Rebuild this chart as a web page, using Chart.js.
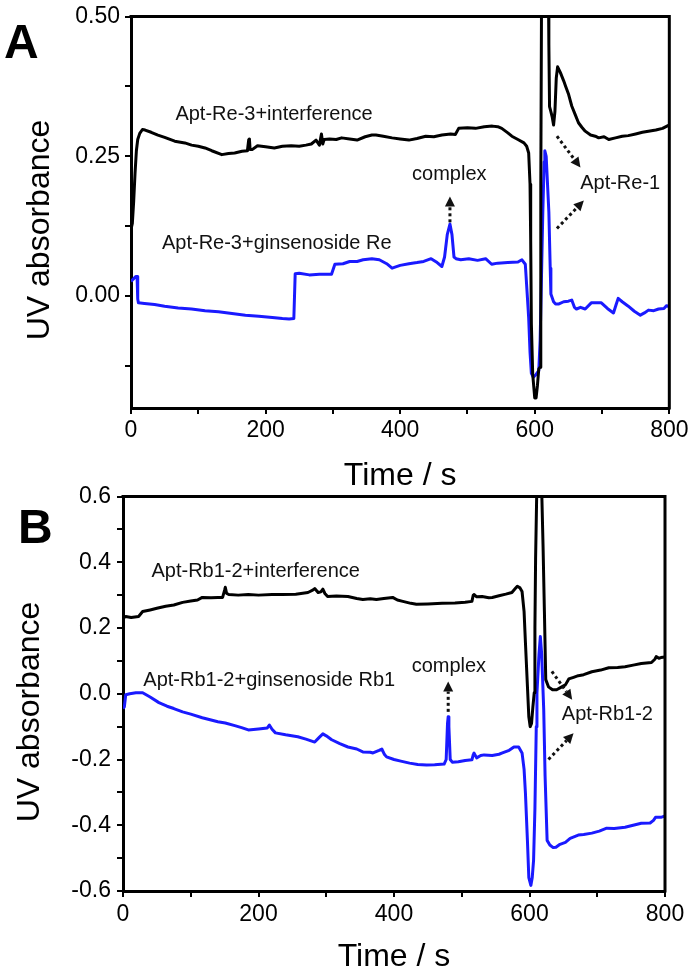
<!DOCTYPE html>
<html><head><meta charset="utf-8">
<script src="https://cdn.jsdelivr.net/npm/chart.js@4.4.0/dist/chart.umd.min.js"></script>
<style>
html,body{margin:0;padding:0;background:#fff;overflow:hidden;width:694px;height:972px;}
canvas{position:absolute;left:0;}
#cA{top:0;} #cB{top:478px;}
</style></head><body>
<canvas id="cA" width="694" height="500"></canvas>
<canvas id="cB" width="694" height="494"></canvas>
<script>
// ---------- DATA ----------
const xTicks = [0,100,200,300,400,500,600,700,800];
const xTickLabels = ['0','','200','','400','','600','','800'];

const yTicksA = [-0.125,0,0.125,0.25,0.375,0.5];
const yTickLabelsA = ['','0.00','','0.25','','0.50'];
const yTicksB = [-0.6,-0.5,-0.4,-0.3,-0.2,-0.1,0,0.1,0.2,0.3,0.4,0.5,0.6];
const yTickLabelsB = ['-0.6','','-0.4','','-0.2','','0.0','','0.2','','0.4','','0.6'];

// Panel A: Apt-Re-3 + interference (black)
const tA_interf = [0,2,4,6,8,10,13,17,21,30,40,50,65,80,90,100,110,120,135,145,154,165,173,175,176,177,180,188,200,213,225,238,250,260,268,275,280,283,285,287,295,305,313,325,336,348,358,364,375,388,400,413,425,438,450,462,475,482,487,500,512,525,537,545,551,560,566,575,584,588,591,593,594,595,597,600,602,604,606,608,609,610,612,615,618,620,621,622,624,626,628,630,632,634,638,643,646,650,655,660,665,670,675,683,690,695,703,710,720,730,739,750,760,769,780,790,798,800];
const yA_interf = [0.12,0.13,0.17,0.22,0.26,0.28,0.291,0.298,0.297,0.293,0.288,0.284,0.277,0.274,0.27,0.268,0.265,0.26,0.253,0.255,0.256,0.259,0.26,0.28,0.281,0.262,0.262,0.269,0.267,0.265,0.268,0.269,0.268,0.27,0.272,0.279,0.27,0.29,0.272,0.28,0.281,0.28,0.283,0.281,0.279,0.285,0.288,0.288,0.286,0.283,0.281,0.279,0.282,0.286,0.285,0.288,0.29,0.289,0.3,0.301,0.3,0.303,0.304,0.303,0.3,0.292,0.286,0.28,0.274,0.268,0.256,0.2,0.1,-0.05,-0.14,-0.182,-0.182,-0.16,-0.13,-0.127,0.2,0.5,0.9,1.0,0.9,0.6,0.45,0.339,0.33,0.32,0.306,0.33,0.39,0.41,0.4,0.385,0.375,0.362,0.34,0.325,0.31,0.302,0.295,0.288,0.286,0.283,0.285,0.28,0.283,0.286,0.287,0.29,0.293,0.295,0.297,0.3,0.305,0.306];

// Panel A: Apt-Re-3 + ginsenoside Re (blue)
const tA_re = [0,3,7,9,10,11,20,35,50,70,90,110,130,150,170,190,210,225,235,242,244,250,265,280,298,301,303,315,325,336,345,358,369,380,388,400,413,425,435,446,455,462,466,470,474,477,480,483,490,502,515,527,536,545,560,575,581,586,589,591,593,595,598,602,606,608,610,612,614,615,617,619,621,623,624,628,631,636,643,650,655,659,662,668,675,684,690,699,708,717,721,724,730,739,748,757,763,769,777,784,792,796,800];
const yA_re = [0.026,0.03,0.035,0.035,-0.005,-0.012,-0.013,-0.015,-0.018,-0.021,-0.023,-0.026,-0.028,-0.031,-0.034,-0.036,-0.038,-0.04,-0.041,-0.04,0.04,0.041,0.038,0.039,0.039,0.05,0.057,0.058,0.062,0.062,0.065,0.067,0.065,0.058,0.05,0.055,0.058,0.06,0.062,0.067,0.06,0.053,0.07,0.11,0.129,0.11,0.07,0.067,0.065,0.067,0.064,0.067,0.057,0.059,0.06,0.061,0.065,0.057,0.0,-0.039,-0.1,-0.138,-0.145,-0.14,-0.133,-0.08,0.032,0.15,0.24,0.26,0.25,0.2,0.15,0.05,0.004,-0.01,-0.014,-0.014,-0.01,-0.009,-0.007,-0.02,-0.023,-0.02,-0.023,-0.012,-0.012,-0.012,-0.022,-0.03,-0.015,-0.004,-0.01,-0.018,-0.027,-0.034,-0.03,-0.025,-0.026,-0.023,-0.022,-0.017,-0.019];

// Panel B: Apt-Rb1-2 + interference (black)
const tB_interf = [0,4,12,23,29,40,50,63,75,88,100,110,117,130,140,147,150,151,153,156,170,185,200,220,235,255,273,280,283,288,292,295,298,302,315,332,345,354,365,374,385,398,405,413,425,433,450,471,490,505,515,517,518,522,530,540,545,555,565,574,579,582,586,589,592,594,597,599,601,603,605,607,608,609,611,614,616,618,620,622,624,628,634,640,647,653,658,665,672,680,692,705,717,730,741,753,765,780,785,787,791,794,800];
const yB_interf = [0.23,0.235,0.232,0.235,0.25,0.255,0.26,0.266,0.27,0.278,0.282,0.285,0.293,0.292,0.293,0.293,0.315,0.324,0.305,0.302,0.3,0.302,0.3,0.302,0.302,0.303,0.308,0.315,0.32,0.308,0.31,0.318,0.305,0.296,0.297,0.296,0.29,0.287,0.289,0.287,0.29,0.293,0.285,0.281,0.275,0.272,0.273,0.275,0.276,0.278,0.281,0.3,0.302,0.295,0.296,0.292,0.293,0.298,0.303,0.308,0.32,0.327,0.322,0.311,0.25,0.156,0.02,-0.07,-0.1,-0.09,-0.04,0.003,0.2,0.41,0.65,0.9,0.95,0.62,0.45,0.25,0.043,0.021,0.012,0.012,0.02,0.027,0.045,0.05,0.055,0.058,0.067,0.072,0.079,0.08,0.082,0.087,0.092,0.095,0.105,0.113,0.108,0.11,0.112];

// Panel B: Apt-Rb1-2 + ginsenoside Rb1 (blue)
const tB_rb1 = [0,2,4,10,19,29,40,53,65,75,88,100,117,130,140,151,165,175,185,200,213,216,220,225,240,258,270,283,290,295,300,308,320,332,345,354,365,369,378,382,386,389,400,410,423,435,448,460,474,477,479,480,481,483,486,495,505,515,517,518,522,528,533,545,555,560,570,577,584,589,592,594,597,599,602,604,606,608,610,611,614,616,618,621,623,626,630,635,639,645,653,660,672,680,692,703,714,725,741,753,765,778,783,786,794,800];
const yB_rb1 = [-0.045,-0.04,-0.003,0.0,0.003,0.003,-0.01,-0.027,-0.038,-0.045,-0.055,-0.062,-0.073,-0.08,-0.085,-0.089,-0.097,-0.103,-0.11,-0.107,-0.104,-0.095,-0.108,-0.119,-0.125,-0.131,-0.138,-0.147,-0.132,-0.122,-0.128,-0.14,-0.152,-0.162,-0.168,-0.177,-0.178,-0.18,-0.172,-0.168,-0.185,-0.192,-0.2,-0.205,-0.211,-0.215,-0.217,-0.216,-0.214,-0.2,-0.09,-0.07,-0.1,-0.2,-0.208,-0.207,-0.203,-0.201,-0.185,-0.18,-0.195,-0.188,-0.186,-0.188,-0.184,-0.18,-0.172,-0.162,-0.162,-0.18,-0.23,-0.302,-0.45,-0.559,-0.583,-0.56,-0.507,-0.35,-0.1,0.003,0.12,0.174,0.12,-0.049,-0.25,-0.446,-0.46,-0.468,-0.467,-0.458,-0.452,-0.44,-0.43,-0.428,-0.424,-0.418,-0.409,-0.41,-0.406,-0.4,-0.394,-0.393,-0.385,-0.376,-0.376,-0.372];

// ---------- ANNOTATIONS ----------
const notesA = [
  {text:'Apt-Re-3+interference', x:66, y:0.325, align:'left'},
  {text:'Apt-Re-3+ginsenoside Re', x:46, y:0.094, align:'left'},
  {text:'complex', x:473, y:0.217, align:'center'},
  {text:'Apt-Re-1', x:727, y:0.201, align:'center'}
];
const arrowsA = [
  {x1:474, y1:0.132, x2:474, y2:0.178},
  {x1:633, y1:0.286, x2:668, y2:0.23},
  {x1:633, y1:0.121, x2:673, y2:0.171}
];
const notesB = [
  {text:'Apt-Rb1-2+interference', x:42, y:0.372, align:'left'},
  {text:'Apt-Rb1-2+ginsenoside Rb1', x:30, y:0.04, align:'left'},
  {text:'complex', x:481, y:0.082, align:'center'},
  {text:'Apt-Rb1-2', x:715, y:-0.064, align:'center'}
];
const arrowsB = [
  {x1:480, y1:-0.055, x2:480, y2:0.037},
  {x1:633, y1:0.068, x2:663, y2:-0.018},
  {x1:628, y1:-0.2, x2:665, y2:-0.12}
];

const FONT = '"Liberation Sans", Arial, Helvetica, sans-serif';

function toPts(ts, vs){ return ts.map((t,i)=>({x:t, y:vs[i]})); }

function drawArrow(ctx, x1, y1, x2, y2){
  const ang = Math.atan2(y2-y1, x2-x1);
  const head = 10, hw = 5;
  const bx = x2 - head*Math.cos(ang), by = y2 - head*Math.sin(ang);
  ctx.setLineDash([3,3]);
  ctx.lineWidth = 3;
  ctx.beginPath(); ctx.moveTo(x1,y1); ctx.lineTo(bx,by); ctx.stroke();
  ctx.setLineDash([]);
  ctx.beginPath();
  ctx.moveTo(x2,y2);
  ctx.lineTo(bx - hw*Math.sin(ang), by + hw*Math.cos(ang));
  ctx.lineTo(bx + hw*Math.sin(ang), by - hw*Math.cos(ang));
  ctx.closePath(); ctx.fill();
}

const annotPlugin = {
  id: 'annot',
  afterDatasetsDraw(chart, args, opts){
    const {ctx, chartArea} = chart;
    const xs = chart.scales.x, ys = chart.scales.y;
    ctx.save();
    // top and right frame lines
    ctx.strokeStyle = '#000'; ctx.lineWidth = 3;
    ctx.beginPath();
    ctx.moveTo(chartArea.left-1.5, chartArea.top);
    ctx.lineTo(chartArea.right, chartArea.top);
    ctx.lineTo(chartArea.right, chartArea.bottom+1.5);
    ctx.stroke();
    // notes
    ctx.fillStyle = '#111';
    ctx.font = '20px ' + FONT;
    ctx.textBaseline = 'middle';
    for (const n of opts.notes){
      ctx.textAlign = n.align;
      ctx.fillText(n.text, xs.getPixelForValue(n.x), ys.getPixelForValue(n.y));
    }
    ctx.fillStyle = '#111'; ctx.strokeStyle = '#111';
    for (const a of opts.arrows){
      drawArrow(ctx, xs.getPixelForValue(a.x1), ys.getPixelForValue(a.y1),
                     xs.getPixelForValue(a.x2), ys.getPixelForValue(a.y2));
    }
    // panel letter
    ctx.fillStyle = '#000';
    ctx.font = 'bold 48px ' + FONT;
    ctx.textAlign = 'left'; ctx.textBaseline = 'alphabetic';
    ctx.fillText(opts.letter, opts.letterX, opts.letterY);
    // y-axis title
    ctx.font = '32px ' + FONT;
    ctx.textAlign = 'center'; ctx.textBaseline = 'middle';
    ctx.translate(opts.yTitleX, opts.yTitleY);
    ctx.rotate(-Math.PI/2);
    ctx.fillText('UV absorbance', 0, 0);
    ctx.restore();
  }
};

function makeChart(id, c){
  return new Chart(document.getElementById(id), {
    type: 'line',
    data: { datasets: [
      {data: toPts(c.t1, c.v1), borderColor:'#000', borderWidth:3, pointRadius:0, tension:0, fill:false, borderJoinStyle:'round'},
      {data: toPts(c.t2, c.v2), borderColor:'#1a1aff', borderWidth:3, pointRadius:0, tension:0, fill:false, borderJoinStyle:'round'}
    ]},
    options: {
      responsive:false, animation:false, devicePixelRatio:1,
      layout: {padding: c.pad},
      plugins: {
        legend:{display:false}, tooltip:{enabled:false},
        annot: {notes:c.notes, arrows:c.arrows, letter:c.letter, letterX:c.letterX, letterY:c.letterY, yTitleX:c.yTitleX, yTitleY:c.yTitleY}
      },
      scales: {
        x: {
          type:'linear', min:0, max:800,
          afterBuildTicks: s => { s.ticks = xTicks.map(v=>({value:v})); },
          afterFit: s => { s.height = c.xHeight; },
          ticks: {callback:(v,i)=>xTickLabels[i], autoSkip:false, maxRotation:0, padding:c.xPad, color:'#000', font:{family:FONT, size:23, lineHeight:1}},
          grid: {display:true, drawOnChartArea:false, drawTicks:true, tickLength:6, color:'#000', lineWidth:2},
          border: {display:true, color:'#000', width:3},
          title: {display:true, text:'Time / s', color:'#000', font:{family:FONT, size:32, lineHeight:c.xtLH}, padding:{top:0, bottom:c.xtPad}}
        },
        y: {
          type:'linear', min:c.ymin, max:c.ymax,
          afterBuildTicks: s => { s.ticks = c.yTicks.map(v=>({value:v})); },
          afterFit: s => { s.width = c.yWidth; },
          ticks: {callback:(v,i)=>c.yLabels[i], autoSkip:false, padding:c.yPad, color:'#000', font:{family:FONT, size:23, lineHeight:1}},
          grid: {display:true, drawOnChartArea:false, drawTicks:true, tickLength:6, color:'#000', lineWidth:2},
          border: {display:true, color:'#000', width:3},
          title: {display:false}
        }
      }
    },
    plugins: [annotPlugin]
  });
}

makeChart('cA', {
  t1:tA_interf, v1:yA_interf, t2:tA_re, v2:yA_re,
  ymin:-0.2, ymax:0.5, yTicks:yTicksA, yLabels:yTickLabelsA,
  pad:{top:12, right:22, left:0, bottom:0}, xHeight:92, yWidth:131, xPad:5.5, yPad:5,
  xtLH:1, xtPad:8,
  notes:notesA, arrows:arrowsA, letter:'A', letterX:4, letterY:58, yTitleX:40, yTitleY:230
});
makeChart('cB', {
  t1:tB_interf, v1:yB_interf, t2:tB_rb1, v2:yB_rb1,
  ymin:-0.6, ymax:0.6, yTicks:yTicksB, yLabels:yTickLabelsB,
  pad:{top:18.5, right:29, left:0, bottom:0}, xHeight:81, yWidth:123, xPad:6.5, yPad:6,
  xtLH:0.9375, xtPad:0,
  notes:notesB, arrows:arrowsB, letter:'B', letterX:18, letterY:65, yTitleX:30, yTitleY:234
});
</script>
</body></html>
